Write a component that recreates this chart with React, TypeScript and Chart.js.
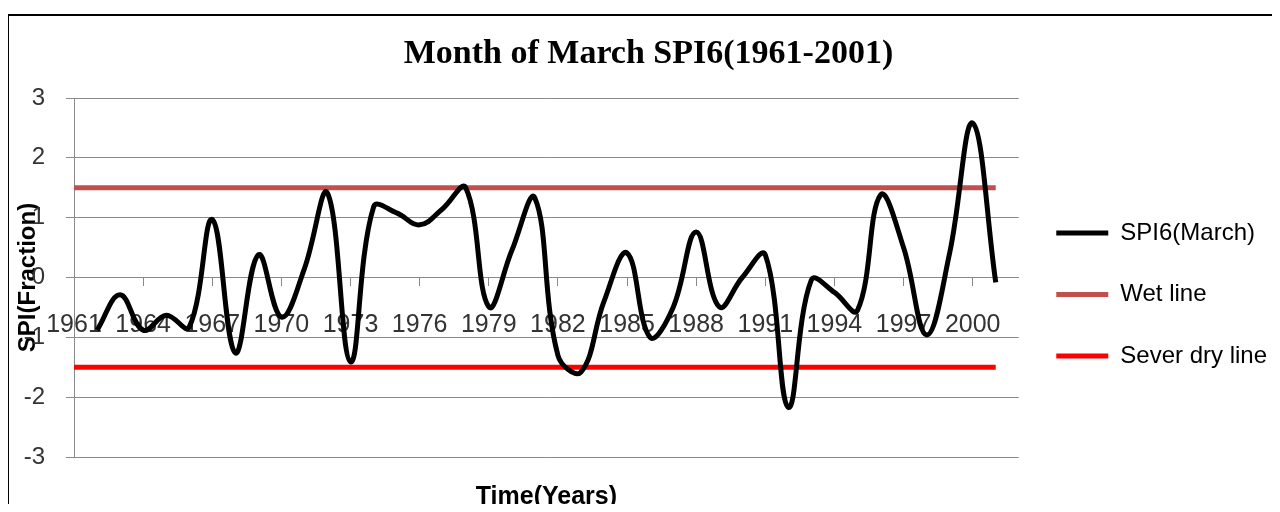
import React, { useEffect, useRef } from 'react';
import { Chart, registerables } from 'chart.js';

Chart.register(...registerables);

const years = [
  '1961', '1962', '1963', '1964', '1965', '1966', '1967', '1968', '1969', '1970',
  '1971', '1972', '1973', '1974', '1975', '1976', '1977', '1978', '1979', '1980',
  '1981', '1982', '1983', '1984', '1985', '1986', '1987', '1988', '1989', '1990',
  '1991', '1992', '1993', '1994', '1995', '1996', '1997', '1998', '1999', '2000',
  '2001', '2002',
];

const spiMarch = [
  null, -0.88, -0.29, -0.88, -0.63, -0.83, 0.97, -1.26, 0.38, -0.66,
  0.15, 1.41, -1.41, 1.18, 1.08, 0.88, 1.15, 1.5, -0.49, 0.45,
  1.33, -1.3, -1.58, -0.4, 0.41, -1.0, -0.5, 0.76, -0.49, 0.0,
  0.38, -2.17, -0.04, -0.25, -0.55, 1.38, 0.5, -0.96, 0.41, 2.58,
  -0.08, null,
];

const wetLine = [
  1.5, 1.5, 1.5, 1.5, 1.5, 1.5, 1.5, 1.5, 1.5, 1.5,
  1.5, 1.5, 1.5, 1.5, 1.5, 1.5, 1.5, 1.5, 1.5, 1.5,
  1.5, 1.5, 1.5, 1.5, 1.5, 1.5, 1.5, 1.5, 1.5, 1.5,
  1.5, 1.5, 1.5, 1.5, 1.5, 1.5, 1.5, 1.5, 1.5, 1.5,
  1.5, null,
];

const severDryLine = [
  -1.5, -1.5, -1.5, -1.5, -1.5, -1.5, -1.5, -1.5, -1.5, -1.5,
  -1.5, -1.5, -1.5, -1.5, -1.5, -1.5, -1.5, -1.5, -1.5, -1.5,
  -1.5, -1.5, -1.5, -1.5, -1.5, -1.5, -1.5, -1.5, -1.5, -1.5,
  -1.5, -1.5, -1.5, -1.5, -1.5, -1.5, -1.5, -1.5, -1.5, -1.5,
  -1.5, null,
];

const yMin = -3;
const yMax = 3;
const yStep = 1;
const labelEvery = 3;

const SANS = '"Liberation Sans", Arial, sans-serif';
const SERIF = '"Liberation Serif", "Times New Roman", serif';
const GRID = '#8a8a8a';
const TICK_COLOR = '#333333';

export default function App() {
  const canvasRef = useRef<HTMLCanvasElement>(null);

  useEffect(() => {
    if (!canvasRef.current) return;
    const chart = new Chart(canvasRef.current, {
      type: 'line',
      data: {
        labels: years,
        datasets: [
          {
            label: 'SPI6(March)',
            data: spiMarch,
            borderColor: '#000000',
            backgroundColor: '#000000',
            borderWidth: 5,
            tension: 0.4,
            pointRadius: 0,
            pointHoverRadius: 0,
            fill: false,
          },
          {
            label: 'Wet line',
            data: wetLine,
            borderColor: '#C0504D',
            backgroundColor: '#C0504D',
            borderWidth: 5,
            tension: 0,
            pointRadius: 0,
            pointHoverRadius: 0,
            fill: false,
          },
          {
            label: 'Sever dry line',
            data: severDryLine,
            borderColor: '#FF0000',
            backgroundColor: '#FF0000',
            borderWidth: 5,
            tension: 0,
            pointRadius: 0,
            pointHoverRadius: 0,
            fill: false,
          },
        ],
      },
      options: {
        responsive: false,
        animation: false,
        devicePixelRatio: 1,
        events: [],
        layout: { padding: { left: 13, right: 3, top: 0, bottom: 0 } },
        plugins: {
          title: {
            display: true,
            text: 'Month of March SPI6(1961-2001)',
            color: '#000000',
            font: { family: SERIF, size: 34, weight: 'bold' },
            padding: { top: 25.6, bottom: 23.6 },
          },
          subtitle: {
            display: true,
            position: 'bottom',
            fullSize: false,
            text: 'Time(Years)',
            color: '#000000',
            font: { family: SANS, size: 25, weight: 'bold' },
            padding: { top: 25, bottom: 0 },
          },
          legend: {
            position: 'right',
            fullSize: false,
            align: 'start',
            title: { display: true, text: '', font: { size: 10 }, padding: { top: 73.5, bottom: 0 } },
            labels: {
              boxWidth: 52,
              boxHeight: 5,
              padding: 37.5,
              color: '#000000',
              font: { family: SANS, size: 24 },
              generateLabels: (c: any) =>
                Chart.defaults.plugins.legend.labels
                  .generateLabels(c)
                  .map((l: any) => ({ ...l, lineWidth: 0 })),
            },
          },
          tooltip: { enabled: false },
        },
        scales: {
          x: {
            type: 'category',
            position: { y: 0 } as any,
            grid: { drawOnChartArea: false, drawTicks: true, tickLength: 8, color: GRID },
            border: { display: true, color: GRID, width: 1 },
            ticks: {
              autoSkip: false,
              maxRotation: 0,
              minRotation: 0,
              padding: 24.5,
              color: TICK_COLOR,
              font: { family: SANS, size: 25 },
              callback: (_v: any, i: number) => (i % labelEvery === 0 ? years[i] : null),
            },
          },
          y: {
            min: yMin,
            max: yMax,
            ticks: {
              stepSize: yStep,
              padding: 21,
              color: TICK_COLOR,
              font: { family: SANS, size: 24 },
            },
            grid: { color: GRID, tickLength: 8 },
            border: { display: true, color: GRID, width: 1 },
            title: {
              display: true,
              text: 'SPI(Fraction)',
              color: '#000000',
              font: { family: SANS, size: 24, weight: 'bold' },
              padding: { top: -6.4, bottom: 0 },
            },
            afterFit: (s: any) => {
              s.width = 54;
            },
          },
        },
      },
    } as any);
    return () => chart.destroy();
  }, []);

  return (
    <div
      style={{
        position: 'relative',
        marginLeft: -1,
        marginBottom: -8,
        width: 1273,
        height: 504,
        overflow: 'hidden',
        background: '#ffffff',
      }}
    >
      <canvas
        ref={canvasRef}
        width={1273}
        height={504}
        style={{ position: 'absolute', left: 0, top: 0, width: 1273, height: 504 }}
      />
      <div
        style={{
          position: 'absolute',
          left: 0,
          top: 6,
          width: 2000,
          height: 2000,
          borderLeft: '2px solid #000',
          borderTop: '2px solid #000',
          pointerEvents: 'none',
        }}
      />
    </div>
  );
}
